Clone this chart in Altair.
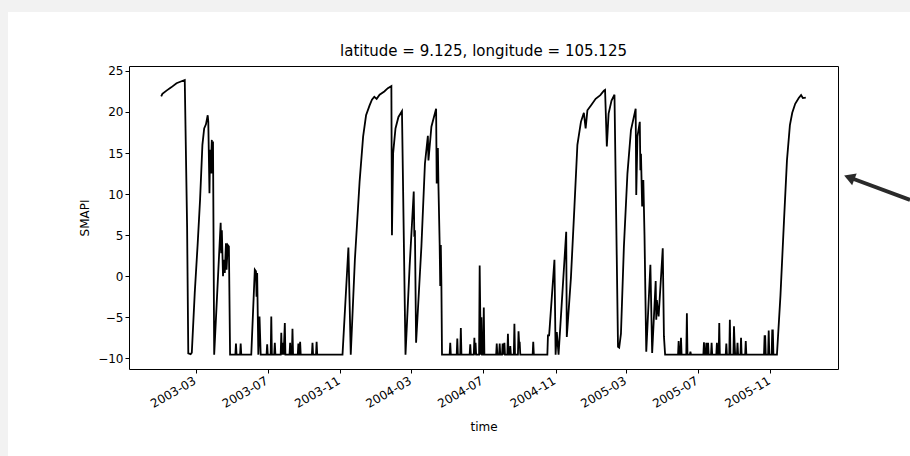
import altair as alt
import pandas as pd

B = -9.55  # floor level of the index

dates = [
    "2003-01-01", "2003-01-03", "2003-01-10", "2003-01-18", "2003-01-27", "2003-02-10",
    "2003-02-14", "2003-02-16", "2003-02-20", "2003-02-22", "2003-02-27", "2003-03-04",
    "2003-03-08", "2003-03-12", "2003-03-15", "2003-03-18", "2003-03-21", "2003-03-22",
    "2003-03-24", "2003-03-25", "2003-03-26", "2003-03-28", "2003-03-29", "2003-03-30",
    "2003-04-01", "2003-04-12", "2003-04-13", "2003-04-14", "2003-04-16", "2003-04-17",
    "2003-04-19", "2003-04-21", "2003-04-22", "2003-04-24", "2003-04-26", "2003-04-28",
    "2003-05-07", "2003-05-08", "2003-05-09", "2003-05-15", "2003-05-16", "2003-05-17",
    "2003-06-03", "2003-06-09", "2003-06-11", "2003-06-12", "2003-06-13", "2003-06-15",
    "2003-06-17", "2003-06-19",
    "2003-06-29", "2003-06-30", "2003-07-01", "2003-07-06", "2003-07-07", "2003-07-08",
    "2003-07-12", "2003-07-13", "2003-07-14", "2003-07-23", "2003-07-24", "2003-07-25",
    "2003-07-27", "2003-07-28", "2003-07-30", "2003-07-31", "2003-08-07", "2003-08-08",
    "2003-08-09", "2003-08-11", "2003-08-12", "2003-08-13", "2003-08-21", "2003-08-22",
    "2003-08-23", "2003-08-24", "2003-08-25", "2003-08-26", "2003-09-14", "2003-09-15",
    "2003-09-16", "2003-09-21", "2003-09-22", "2003-09-23",
    "2003-11-05", "2003-11-15", "2003-11-19", "2003-11-26", "2003-12-04", "2003-12-10",
    "2003-12-15", "2003-12-21", "2003-12-25", "2003-12-29", "2004-01-02", "2004-01-07",
    "2004-01-15", "2004-01-21", "2004-01-27", "2004-01-28", "2004-01-30", "2004-02-03",
    "2004-02-08", "2004-02-14", "2004-02-20", "2004-02-27", "2004-03-05", "2004-03-06",
    "2004-03-07", "2004-03-09", "2004-03-18", "2004-03-24", "2004-03-29", "2004-03-30",
    "2004-04-04", "2004-04-12", "2004-04-13", "2004-04-15", "2004-04-16", "2004-04-18",
    "2004-04-19", "2004-04-20", "2004-04-21", "2004-04-22",
    "2004-05-05", "2004-05-06", "2004-05-07", "2004-05-17", "2004-05-18", "2004-05-19",
    "2004-05-23", "2004-05-24", "2004-05-25", "2004-06-08", "2004-06-09", "2004-06-10",
    "2004-06-15", "2004-06-16", "2004-06-17", "2004-06-18", "2004-06-19", "2004-06-24",
    "2004-06-25", "2004-06-26", "2004-06-27", "2004-06-28", "2004-06-29", "2004-07-01",
    "2004-07-02", "2004-07-03", "2004-07-23", "2004-07-24", "2004-07-25", "2004-07-28",
    "2004-07-29", "2004-07-30", "2004-08-02", "2004-08-03", "2004-08-04", "2004-08-06",
    "2004-08-07", "2004-08-11", "2004-08-12", "2004-08-13", "2004-08-15", "2004-08-16",
    "2004-08-17", "2004-08-22", "2004-08-23", "2004-08-24", "2004-08-29", "2004-08-30",
    "2004-08-31", "2004-09-01", "2004-09-02", "2004-09-23", "2004-09-24", "2004-09-25",
    "2004-10-18", "2004-10-19", "2004-10-21", "2004-10-30", "2004-11-01", "2004-11-03",
    "2004-11-06", "2004-11-19", "2004-11-20", "2004-11-27", "2004-12-03", "2004-12-08",
    "2004-12-14", "2004-12-19", "2004-12-22", "2004-12-25", "2004-12-31", "2005-01-08",
    "2005-01-16", "2005-01-22", "2005-01-24", "2005-01-27", "2005-01-30", "2005-02-04",
    "2005-02-09", "2005-02-15", "2005-02-17", "2005-02-20", "2005-02-25", "2005-03-03",
    "2005-03-09", "2005-03-17", "2005-03-18", "2005-03-20", "2005-03-24", "2005-03-25",
    "2005-03-26", "2005-03-28", "2005-03-30", "2005-04-01", "2005-04-04", "2005-04-11",
    "2005-04-14", "2005-04-20", "2005-04-21", "2005-04-22", "2005-04-23", "2005-04-25",
    "2005-05-02", "2005-05-04", "2005-05-06",
    "2005-05-28", "2005-05-29", "2005-05-30", "2005-06-01", "2005-06-02", "2005-06-03",
    "2005-06-11", "2005-06-12", "2005-06-13", "2005-06-17", "2005-06-18", "2005-06-19",
    "2005-07-10", "2005-07-11", "2005-07-12", "2005-07-14", "2005-07-15", "2005-07-16",
    "2005-07-17", "2005-07-18", "2005-07-19", "2005-07-23", "2005-07-24", "2005-07-25",
    "2005-08-01", "2005-08-02", "2005-08-03", "2005-08-05", "2005-08-06", "2005-08-07",
    "2005-08-17", "2005-08-18", "2005-08-19", "2005-08-23", "2005-08-24", "2005-08-25",
    "2005-08-30", "2005-08-31", "2005-09-01", "2005-09-02", "2005-09-05", "2005-09-06",
    "2005-09-07", "2005-09-11", "2005-09-12", "2005-09-13", "2005-09-19", "2005-09-20",
    "2005-09-21", "2005-10-21", "2005-10-22", "2005-10-23", "2005-10-24", "2005-10-27",
    "2005-10-28", "2005-10-29", "2005-10-30", "2005-11-03", "2005-11-04", "2005-11-05",
    "2005-11-06",
    "2005-11-12", "2005-11-18", "2005-11-24", "2005-11-29", "2005-12-04", "2005-12-08",
    "2005-12-13", "2005-12-19", "2005-12-23", "2005-12-26", "2005-12-31",
]

smapi = [
    21.9, 22.2, 22.6, 23.0, 23.5, 23.9,
    6.0, -9.4, -9.5, -9.3, -2.0, 4.0,
    9.3, 16.0, 18.0, 18.5, 19.6, 18.8,
    10.1, 15.4, 12.5, 16.6, 12.5, 16.4,
    B, 6.5, 2.8, 5.6, 0.0, 2.0,
    0.4, 4.0, 0.8, 3.8, 3.6, B,
    B, -8.2, B, B, -8.2, B,
    B, 0.8, 0.6, -2.5, 0.4, B,
    -4.9, B,
    B, -8.3, B, B, -4.9, B,
    B, -8.1, B, B, -6.9, B,
    -8.1, B, -5.7, B, B, -8.1,
    B, B, -6.4, B, B, -8.2,
    B, B, -8.0, B, B, -8.1,
    B, B, -8.0, B,
    B, 3.5, B, 2.0, 11.5, 17.0,
    19.6, 20.8, 21.5, 21.85, 21.6, 22.1,
    22.5, 22.9, 23.15, 5.0, 15.0, 18.0,
    19.4, 20.1, B, 1.2, 10.3, 4.8,
    5.6, -8.1, 3.6, 13.7, 17.1, 14.1,
    18.2, 20.4, 11.3, 15.6, 10.9, 4.0,
    -1.2, 3.8, -1.2, B,
    B, -8.1, B, B, -7.6, B,
    B, -6.3, B, B, -8.3, B,
    B, -7.5, B, -8.1, B, B,
    1.3, -4.5, B, -5.0, B, B,
    -3.8, B, B, -8.2, B, B,
    -8.2, B, B, -8.2, B, -8.1,
    B, B, -7.0, B, B, -8.5,
    B, B, -5.8, B, B, -6.7,
    -8.1, -8.1, B, B, -8.0, B,
    B, -7.2, -7.2, 2.0, B, -6.8,
    B, 5.4, -7.4, -0.2, 8.5, 16.0,
    18.8, 19.9, 18.0, 20.2, 20.8, 21.6,
    22.05, 22.6, 22.7, 15.8, 19.8, 21.4,
    22.1, -8.6, -8.7, -7.0, 3.6, 12.5,
    17.8, 20.4, 9.9, 17.0, 18.8, 12.9,
    14.9, 8.5, 11.7, 5.0, -9.2, 1.4,
    -9.35, -0.6, -5.3, -2.9, -3.7, -4.9,
    3.4, -7.3, B,
    B, -7.9, B, B, -7.5, B,
    B, -4.5, B, B, -9.2, B,
    B, -8.05, B, B, -8.1, B,
    B, -8.1, B, B, -8.1, B,
    B, -8.1, B, B, -5.7, B,
    B, -8.2, B, B, -5.3, B,
    B, -6.1, -8.1, B, B, -8.1,
    B, B, -7.5, B, B, -7.9,
    B, B, -7.3, -7.3, B, B,
    B, -6.6, B, B, -6.6, -6.6,
    B,
    B, -2.3, 6.8, 14.1, 18.4, 19.9,
    21.0, 21.7, 22.05, 21.7, 21.75,
]

tick_months = [(2003, 3), (2003, 7), (2003, 11), (2004, 3), (2004, 7),
               (2004, 11), (2005, 3), (2005, 7), (2005, 11)]
y_ticks = [-10, -5, 0, 5, 10, 15, 20, 25]
title_text = "latitude = 9.125, longitude = 105.125"

df = pd.DataFrame({"time": dates, "SMAPI": smapi})

x_axis = alt.Axis(
    values=[alt.DateTime(year=y, month=m, date=1, utc=True) for y, m in tick_months],
    labelExpr="utcFormat(datum.value, '%Y-%m')",
    labelAngle=330, labelAlign="right", labelBaseline="top",
    labelPadding=2, labelOffset=-4,
    title="time", titlePadding=12,
)
y_axis = alt.Axis(
    values=y_ticks,
    labelExpr="replace(format(datum.value, 'd'), '-', '\u2212')",
    title="SMAPI", titlePadding=6,
)

line = (
    alt.Chart(df)
    .mark_line(color="black", strokeWidth=1.8)
    .encode(
        x=alt.X("time:T", axis=x_axis,
                scale=alt.Scale(type="utc", nice=False, domain=[
                    alt.DateTime(year=2002, month=11, date=7, hours=7, utc=True),
                    alt.DateTime(year=2006, month=2, date=23, hours=17, utc=True)])),
        y=alt.Y("SMAPI:Q", axis=y_axis,
                scale=alt.Scale(domain=[-11.3, 25.6], nice=False, zero=False)),
    )
)

one = alt.Data(values=[{"label": title_text}])

# panel title, centred over the plot area
title_mark = alt.Chart(one).mark_text(
    font="DejaVu Sans", fontSize=15, color="black", align="center",
    baseline="alphabetic", clip=False,
).encode(text="label:N", x=alt.value(354.5), y=alt.value(-10))

# screenshot decorations around the figure (page frame + pointer arrow)
frame_top = alt.Chart(one).mark_rect(color="#f2f2f2", clip=False).encode(
    x=alt.value(-129), x2=alt.value(781), y=alt.value(-66), y2=alt.value(-54))
frame_left = alt.Chart(one).mark_rect(color="#f2f2f2", clip=False).encode(
    x=alt.value(-129), x2=alt.value(-121), y=alt.value(-54), y2=alt.value(390))
arrow_shaft = alt.Chart(one).mark_rule(color="#2a2a2a", strokeWidth=4, clip=False).encode(
    x=alt.value(722), x2=alt.value(781), y=alt.value(112), y2=alt.value(134))
arrow_head = alt.Chart(one).mark_point(
    shape="triangle", filled=True, color="#2a2a2a", size=160, angle=291,
    opacity=1, clip=False).encode(x=alt.value(722), y=alt.value(112))

chart = (
    alt.layer(frame_top, frame_left, line, title_mark, arrow_shaft, arrow_head)
    .properties(
        width=709, height=303,
        background="white",
        autosize=alt.AutoSizeParams(type="none"),
        padding={"left": 129, "top": 66, "right": 72, "bottom": 87},
    )
    .configure_view(stroke="black", strokeWidth=1)
    .configure_axis(
        domain=False, grid=False, ticks=True, tickColor="black", tickSize=4,
        labelFont="DejaVu Sans", labelFontSize=12, labelColor="black",
        titleFont="DejaVu Sans", titleFontSize=12, titleFontWeight="normal",
        titleColor="black",
    )
)

chart.save("out.html", embed_options={"renderer": "svg", "actions": False})
